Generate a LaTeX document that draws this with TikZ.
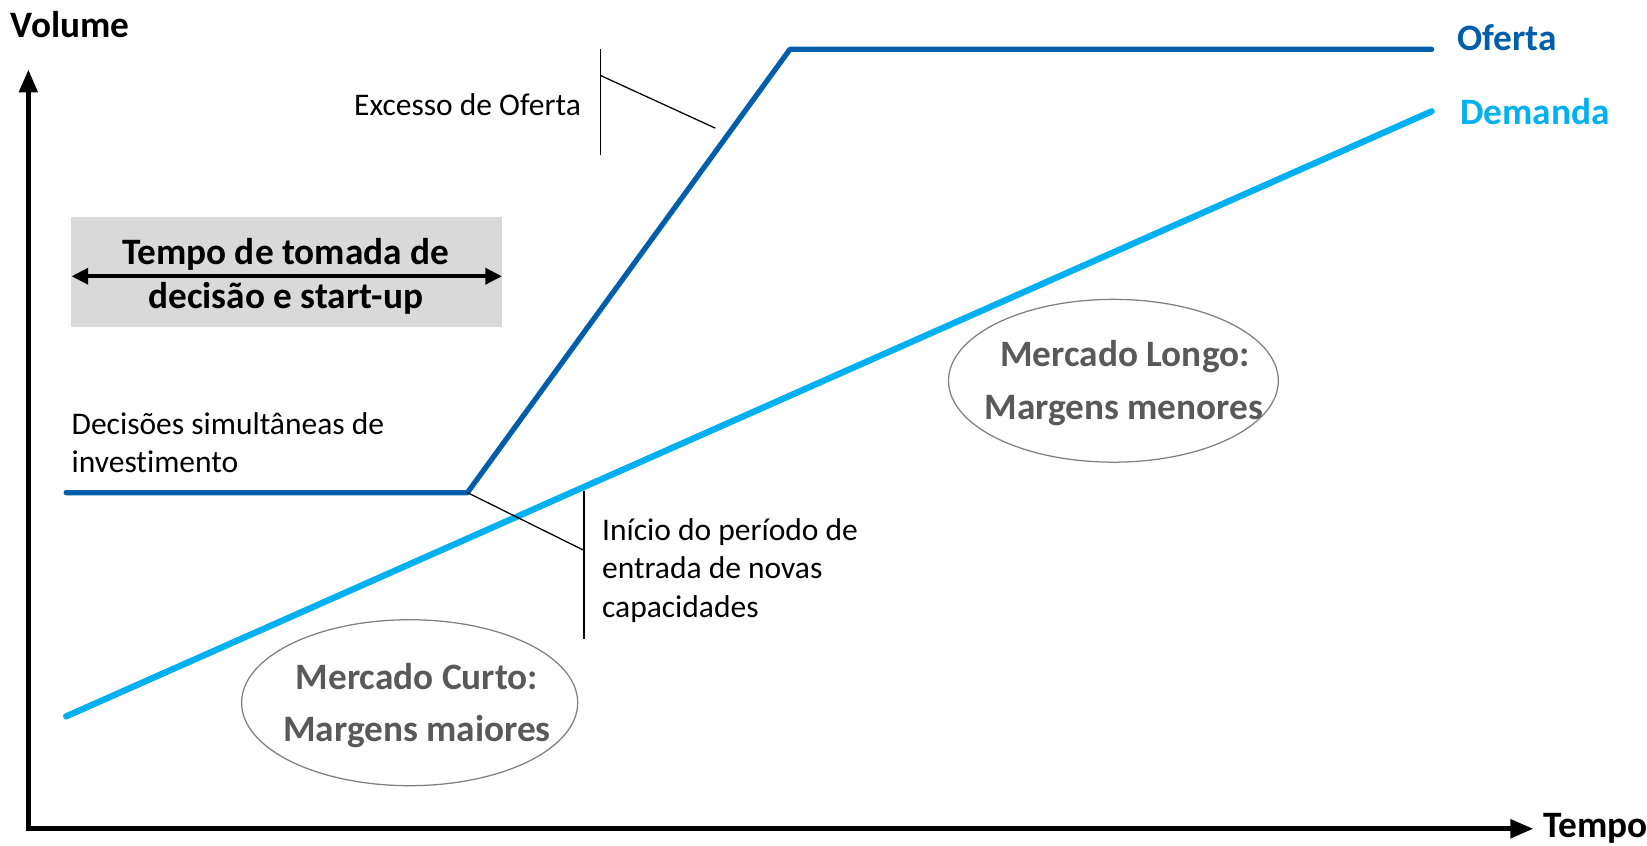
\documentclass[tikz,border=0pt]{standalone}
\usepackage{fontspec}
\setmainfont{Carlito}[Ligatures={NoCommon}]
\usetikzlibrary{arrows.meta,shapes.geometric}
\definecolor{oferta}{RGB}{0,94,170}
\definecolor{demanda}{RGB}{0,176,240}
\definecolor{graybox}{RGB}{217,217,217}
\definecolor{elltext}{RGB}{89,89,89}
\definecolor{ellline}{RGB}{127,127,127}
\begin{document}
\begin{tikzpicture}[x=1pt,y=-1pt,
  axisline/.style={line width=5pt,-{Triangle[length=22pt,width=17pt]}},
  oferline/.style={draw=oferta,line width=5pt,line cap=round,line join=round},
  demline/.style={draw=demanda,line width=6pt,line cap=round},
  callout/.style={draw=black,line width=1.2pt},
  reglab/.style={font=\fontsize{30}{36}\selectfont,inner sep=0,anchor=base west},
  boldlab/.style={font=\bfseries\fontsize{35.5}{42}\selectfont,inner sep=0,anchor=base west},
  elltxt/.style={font=\bfseries\fontsize{35.5}{42}\selectfont,text=elltext,inner sep=0,anchor=base},
  ellbox/.style={ellipse,draw=ellline,line width=1.2pt,inner sep=0},
  boxtxt/.style={font=\bfseries\fontsize{35.5}{42}\selectfont,inner sep=0,anchor=base}
]
\useasboundingbox (0,0) rectangle (1568,804.5);

% gray box
\node[fill=graybox,minimum width=410pt,minimum height=104pt,inner sep=0] (gbox) at (273,259) {};
\coordinate (ga) at (68,263);
\coordinate (gb) at (478,263);
\draw[line width=4pt,{Triangle[length=16pt,width=15pt]}-{Triangle[length=16pt,width=15pt]}] (ga) -- (gb);
\node[boxtxt] (gt1) at (272,251.5) {Tempo de tomada de};
\node[boxtxt] (gt2) at (272,293.5) {decisão e start-up};

% ellipses
\node[ellbox,minimum width=320pt,minimum height=158pt] (ecurto) at (390,669) {};
\node[elltxt] (ec1) at (397,656.5) {Mercado Curto:};
\node[elltxt] (ec2) at (397,705.5) {Margens maiores};
\node[ellbox,minimum width=314pt,minimum height=155pt] (elongo) at (1060,362.5) {};
\node[elltxt] (el1) at (1071,348.5) {Mercado Longo:};
\node[elltxt] (el2) at (1070,399.5) {Margens menores};

% demand and supply curves
\coordinate (d1) at (63,682);
\coordinate (d2) at (1363,106);
\draw[demline] (d1) -- (d2);
\coordinate (o1) at (63,469);
\coordinate (o2) at (445,469);
\coordinate (o3) at (752,47);
\coordinate (o4) at (1363,47);
\draw[oferline] (o1) -- (o2) -- (o3) -- (o4);

% axes
\coordinate (ytip) at (27,66);
\coordinate (xtip) at (1460,789);
\coordinate (yb) at (27,791.5);
\coordinate (xa) at (24.5,789);
\draw[axisline] (yb) -- (ytip);
\draw[axisline] (xa) -- (xtip);

% labels
\node[boldlab] (vol) at (10,36) {Volume};
\node[boldlab] (tempo) at (1469,797) {Tempo};
\node[boldlab,text=oferta] (lof) at (1387,48.5) {Oferta};
\node[boldlab,text=demanda] (ldem) at (1390,118.5) {Demanda};

% callout: excesso de oferta
\node[reglab] (exc) at (337,109.5) {Excesso de Oferta};
\coordinate (ea) at (572,47);
\coordinate (eb) at (572,148);
\coordinate (ec) at (572,72);
\coordinate (ed) at (681,122);
\draw[callout] (ea) -- (eb);
\draw[callout] (ec) -- (ed);

% decisoes
\node[reglab] (dec1) at (68,413.5) {Decisões simultâneas de};
\node[reglab] (dec2) at (68,449.5) {investimento};

% callout: inicio
\node[reglab] (ini1) at (573,514.5) {Início do período de};
\node[reglab] (ini2) at (573,551) {entrada de novas};
\node[reglab] (ini3) at (573,587.5) {capacidades};
\coordinate (ia) at (556,467);
\coordinate (ib) at (556,608);
\coordinate (ic) at (556,524);
\draw[callout] (ia) -- (ib);
\draw[callout] (o2) -- (ic);
\end{tikzpicture}
\end{document}
